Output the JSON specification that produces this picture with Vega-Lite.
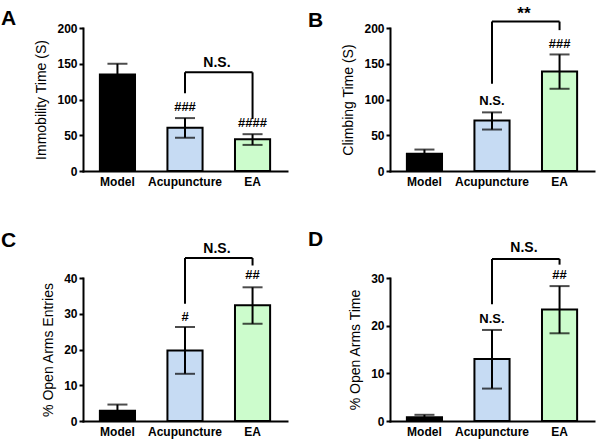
{
  "$schema": "https://vega.github.io/schema/vega-lite/v6.json",
  "padding": {"left": 1, "top": 5, "right": 5, "bottom": 5},
  "background": "white",
  "config": {
    "view": {"stroke": null},
    "font": "Liberation Sans",
    "axis": {"domainColor": "black", "domainWidth": 2, "grid": false, "labelColor": "black", "labelFont": "Liberation Sans", "labelFontWeight": "bold", "labelFontSize": 12, "titleFont": "Liberation Sans", "titleFontWeight": "normal", "titleFontSize": 14, "titleColor": "black"},
    "axisX": {"ticks": false, "labelAngle": 0, "labelPadding": 5, "title": null, "domainCap": "square"},
    "axisY": {"tickColor": "black", "tickWidth": 2, "tickSize": 4, "labelPadding": 2, "titlePadding": 8, "domainCap": "square", "labelOverlap": false},
    "title": {"font": "Liberation Sans", "fontSize": 21, "fontWeight": "bold", "anchor": "start", "frame": "group", "color": "black", "dx": -82, "dy": 11}
  },
  "datasets": {
    "barsA": [
      {"group": "Model", "mean": 135, "lo": 120, "hi": 150},
      {"group": "Acupuncture", "mean": 60.5, "lo": 46.5, "hi": 74},
      {"group": "EA", "mean": 44.5, "lo": 36.5, "hi": 51.5}
    ],
    "legsA": [
      {"group": "Acupuncture", "y1": 108.7, "y2": 138},
      {"group": "EA", "y1": 72.7, "y2": 138}
    ],
    "topA": [{"from": "Acupuncture", "to": "EA", "y": 138}],
    "textA": [
      {"group": "Acupuncture", "y": 89, "label": "###"},
      {"group": "EA", "y": 67.5, "label": "####"}
    ],
    "sigA": [{"group": "Acupuncture", "y": 151, "label": "N.S."}],
    "barsB": [
      {"group": "Model", "mean": 24, "lo": 18, "hi": 30},
      {"group": "Acupuncture", "mean": 70.5, "lo": 58, "hi": 82},
      {"group": "EA", "mean": 139, "lo": 115, "hi": 163}
    ],
    "legsB": [
      {"group": "Acupuncture", "y1": 122, "y2": 209},
      {"group": "EA", "y1": 197, "y2": 209}
    ],
    "topB": [{"from": "Acupuncture", "to": "EA", "y": 209}],
    "textB": [
      {"group": "Acupuncture", "y": 98, "label": "N.S."},
      {"group": "EA", "y": 177, "label": "###"}
    ],
    "sigB": [{"group": "Acupuncture", "y": 219, "label": "**"}],
    "barsC": [
      {"group": "Model", "mean": 2.9, "lo": 1.2, "hi": 4.6},
      {"group": "Acupuncture", "mean": 19.7, "lo": 13.2, "hi": 26.3},
      {"group": "EA", "mean": 32.4, "lo": 27.2, "hi": 37.4}
    ],
    "legsC": [
      {"group": "Acupuncture", "y1": 32.8, "y2": 45.6},
      {"group": "EA", "y1": 43.5, "y2": 45.6}
    ],
    "topC": [{"from": "Acupuncture", "to": "EA", "y": 45.6}],
    "textC": [
      {"group": "Acupuncture", "y": 29, "label": "#"},
      {"group": "EA", "y": 40.8, "label": "##"}
    ],
    "sigC": [{"group": "Acupuncture", "y": 48.2, "label": "N.S."}],
    "barsD": [
      {"group": "Model", "mean": 0.8, "lo": 0.3, "hi": 1.3},
      {"group": "Acupuncture", "mean": 13, "lo": 6.8, "hi": 19.1},
      {"group": "EA", "mean": 23.4, "lo": 18.4, "hi": 28.3}
    ],
    "legsD": [
      {"group": "Acupuncture", "y1": 24.5, "y2": 34},
      {"group": "EA", "y1": 32.8, "y2": 34}
    ],
    "topD": [{"from": "Acupuncture", "to": "EA", "y": 34}],
    "textD": [
      {"group": "Acupuncture", "y": 21.5, "label": "N.S."},
      {"group": "EA", "y": 30.6, "label": "##"}
    ],
    "sigD": [{"group": "Acupuncture", "y": 36.2, "label": "N.S."}]
  },
  "concat": [
    {
      "title": {"text": "A", "offset": 2, "dy": 9},
      "width": 204, "height": 143,
      "layer": [
        {
          "data": {"name": "barsA"},
          "mark": {"type": "bar", "stroke": "black", "strokeWidth": 2},
          "encoding": {
            "x": {"field": "group", "type": "nominal", "sort": ["Model", "Acupuncture", "EA"], "scale": {"domain": ["Model", "Acupuncture", "EA"], "paddingInner": 0.48, "paddingOuter": 0.25}},
            "y": {"field": "mean", "type": "quantitative", "title": "Immobility Time (S)", "scale": {"domain": [0, 200], "nice": false}, "axis": {"values": [0, 50, 100, 150, 200], "title": "Immobility Time (S)"}},
            "fill": {"field": "group", "type": "nominal", "legend": null, "scale": {"domain": ["Model", "Acupuncture", "EA"], "range": ["#000000", "#c6dbf3", "#ccfccc"]}}
          }
        },
        {
          "data": {"name": "barsA"},
          "mark": {"type": "rule", "color": "black", "strokeWidth": 2},
          "encoding": {"x": {"field": "group", "type": "nominal"}, "y": {"field": "lo", "type": "quantitative", "axis": {"values": [0, 50, 100, 150, 200], "title": "Immobility Time (S)"}}, "y2": {"field": "hi"}}
        },
        {
          "data": {"name": "barsA"},
          "mark": {"type": "tick", "color": "black", "thickness": 2, "size": 20, "orient": "horizontal"},
          "encoding": {"x": {"field": "group", "type": "nominal"}, "y": {"field": "hi", "type": "quantitative", "axis": {"values": [0, 50, 100, 150, 200], "title": "Immobility Time (S)"}}}
        },
        {
          "data": {"name": "barsA"},
          "mark": {"type": "tick", "color": "black", "thickness": 2, "size": 20, "orient": "horizontal"},
          "encoding": {"x": {"field": "group", "type": "nominal"}, "y": {"field": "lo", "type": "quantitative", "axis": {"values": [0, 50, 100, 150, 200], "title": "Immobility Time (S)"}}}
        },
        {
          "data": {"name": "legsA"},
          "mark": {"type": "rule", "color": "black", "strokeWidth": 2},
          "encoding": {"x": {"field": "group", "type": "nominal"}, "y": {"field": "y1", "type": "quantitative", "axis": {"values": [0, 50, 100, 150, 200], "title": "Immobility Time (S)"}}, "y2": {"field": "y2"}}
        },
        {
          "data": {"name": "topA"},
          "mark": {"type": "rule", "color": "black", "strokeWidth": 2},
          "encoding": {"x": {"field": "from", "type": "nominal"}, "x2": {"field": "to"}, "y": {"field": "y", "type": "quantitative", "axis": {"values": [0, 50, 100, 150, 200], "title": "Immobility Time (S)"}}}
        },
        {
          "data": {"name": "textA"},
          "mark": {"type": "text", "font": "Liberation Sans", "fontWeight": "bold", "fontSize": 13, "baseline": "middle", "color": "black"},
          "encoding": {"x": {"field": "group", "type": "nominal"}, "y": {"field": "y", "type": "quantitative", "axis": {"values": [0, 50, 100, 150, 200], "title": "Immobility Time (S)"}}, "text": {"field": "label"}}
        },
        {
          "data": {"name": "sigA"},
          "mark": {"type": "text", "font": "Liberation Sans", "fontWeight": "bold", "fontSize": 14, "baseline": "middle", "color": "black"},
          "encoding": {"x": {"field": "group", "type": "nominal", "bandPosition": 1.41}, "y": {"field": "y", "type": "quantitative", "axis": {"values": [0, 50, 100, 150, 200], "title": "Immobility Time (S)"}}, "text": {"field": "label"}}
        }
      ]
    },
    {
      "title": {"text": "B", "offset": 2, "dy": 28},
      "width": 204, "height": 143,
      "layer": [
        {
          "data": {"name": "barsB"},
          "mark": {"type": "bar", "stroke": "black", "strokeWidth": 2},
          "encoding": {
            "x": {"field": "group", "type": "nominal", "sort": ["Model", "Acupuncture", "EA"], "scale": {"domain": ["Model", "Acupuncture", "EA"], "paddingInner": 0.48, "paddingOuter": 0.25}},
            "y": {"field": "mean", "type": "quantitative", "scale": {"domain": [0, 200], "nice": false}, "axis": {"values": [0, 50, 100, 150, 200], "title": "Climbing Time (S)"}},
            "fill": {"field": "group", "type": "nominal", "legend": null, "scale": {"domain": ["Model", "Acupuncture", "EA"], "range": ["#000000", "#c6dbf3", "#ccfccc"]}}
          }
        },
        {
          "data": {"name": "barsB"},
          "mark": {"type": "rule", "color": "black", "strokeWidth": 2},
          "encoding": {"x": {"field": "group", "type": "nominal"}, "y": {"field": "lo", "type": "quantitative", "axis": {"values": [0, 50, 100, 150, 200], "title": "Climbing Time (S)"}}, "y2": {"field": "hi"}}
        },
        {
          "data": {"name": "barsB"},
          "mark": {"type": "tick", "color": "black", "thickness": 2, "size": 20, "orient": "horizontal"},
          "encoding": {"x": {"field": "group", "type": "nominal"}, "y": {"field": "hi", "type": "quantitative", "axis": {"values": [0, 50, 100, 150, 200], "title": "Climbing Time (S)"}}}
        },
        {
          "data": {"name": "barsB"},
          "mark": {"type": "tick", "color": "black", "thickness": 2, "size": 20, "orient": "horizontal"},
          "encoding": {"x": {"field": "group", "type": "nominal"}, "y": {"field": "lo", "type": "quantitative", "axis": {"values": [0, 50, 100, 150, 200], "title": "Climbing Time (S)"}}}
        },
        {
          "data": {"name": "legsB"},
          "mark": {"type": "rule", "color": "black", "strokeWidth": 2},
          "encoding": {"x": {"field": "group", "type": "nominal"}, "y": {"field": "y1", "type": "quantitative", "axis": {"values": [0, 50, 100, 150, 200], "title": "Climbing Time (S)"}}, "y2": {"field": "y2"}}
        },
        {
          "data": {"name": "topB"},
          "mark": {"type": "rule", "color": "black", "strokeWidth": 2},
          "encoding": {"x": {"field": "from", "type": "nominal"}, "x2": {"field": "to"}, "y": {"field": "y", "type": "quantitative", "axis": {"values": [0, 50, 100, 150, 200], "title": "Climbing Time (S)"}}}
        },
        {
          "data": {"name": "textB"},
          "mark": {"type": "text", "font": "Liberation Sans", "fontWeight": "bold", "fontSize": 13, "baseline": "middle", "color": "black"},
          "encoding": {"x": {"field": "group", "type": "nominal"}, "y": {"field": "y", "type": "quantitative", "axis": {"values": [0, 50, 100, 150, 200], "title": "Climbing Time (S)"}}, "text": {"field": "label"}}
        },
        {
          "data": {"name": "sigB"},
          "mark": {"type": "text", "font": "Liberation Sans", "fontWeight": "bold", "fontSize": 17, "baseline": "middle", "color": "black"},
          "encoding": {"x": {"field": "group", "type": "nominal", "bandPosition": 1.41}, "y": {"field": "y", "type": "quantitative", "axis": {"values": [0, 50, 100, 150, 200], "title": "Climbing Time (S)"}}, "text": {"field": "label"}}
        }
      ]
    },
    {
      "title": {"text": "C", "offset": 2},
      "width": 204, "height": 143,
      "layer": [
        {
          "data": {"name": "barsC"},
          "mark": {"type": "bar", "stroke": "black", "strokeWidth": 2},
          "encoding": {
            "x": {"field": "group", "type": "nominal", "sort": ["Model", "Acupuncture", "EA"], "scale": {"domain": ["Model", "Acupuncture", "EA"], "paddingInner": 0.48, "paddingOuter": 0.25}},
            "y": {"field": "mean", "type": "quantitative", "scale": {"domain": [0, 40], "nice": false}, "axis": {"values": [0, 10, 20, 30, 40], "title": "% Open Arms  Entries"}},
            "fill": {"field": "group", "type": "nominal", "legend": null, "scale": {"domain": ["Model", "Acupuncture", "EA"], "range": ["#000000", "#c6dbf3", "#ccfccc"]}}
          }
        },
        {
          "data": {"name": "barsC"},
          "mark": {"type": "rule", "color": "black", "strokeWidth": 2},
          "encoding": {"x": {"field": "group", "type": "nominal"}, "y": {"field": "lo", "type": "quantitative", "axis": {"values": [0, 10, 20, 30, 40], "title": "% Open Arms  Entries"}}, "y2": {"field": "hi"}}
        },
        {
          "data": {"name": "barsC"},
          "mark": {"type": "tick", "color": "black", "thickness": 2, "size": 20, "orient": "horizontal"},
          "encoding": {"x": {"field": "group", "type": "nominal"}, "y": {"field": "hi", "type": "quantitative", "axis": {"values": [0, 10, 20, 30, 40], "title": "% Open Arms  Entries"}}}
        },
        {
          "data": {"name": "barsC"},
          "mark": {"type": "tick", "color": "black", "thickness": 2, "size": 20, "orient": "horizontal"},
          "encoding": {"x": {"field": "group", "type": "nominal"}, "y": {"field": "lo", "type": "quantitative", "axis": {"values": [0, 10, 20, 30, 40], "title": "% Open Arms  Entries"}}}
        },
        {
          "data": {"name": "legsC"},
          "mark": {"type": "rule", "color": "black", "strokeWidth": 2},
          "encoding": {"x": {"field": "group", "type": "nominal"}, "y": {"field": "y1", "type": "quantitative", "axis": {"values": [0, 10, 20, 30, 40], "title": "% Open Arms  Entries"}}, "y2": {"field": "y2"}}
        },
        {
          "data": {"name": "topC"},
          "mark": {"type": "rule", "color": "black", "strokeWidth": 2},
          "encoding": {"x": {"field": "from", "type": "nominal"}, "x2": {"field": "to"}, "y": {"field": "y", "type": "quantitative", "axis": {"values": [0, 10, 20, 30, 40], "title": "% Open Arms  Entries"}}}
        },
        {
          "data": {"name": "textC"},
          "mark": {"type": "text", "font": "Liberation Sans", "fontWeight": "bold", "fontSize": 13, "baseline": "middle", "color": "black"},
          "encoding": {"x": {"field": "group", "type": "nominal"}, "y": {"field": "y", "type": "quantitative", "axis": {"values": [0, 10, 20, 30, 40], "title": "% Open Arms  Entries"}}, "text": {"field": "label"}}
        },
        {
          "data": {"name": "sigC"},
          "mark": {"type": "text", "font": "Liberation Sans", "fontWeight": "bold", "fontSize": 14, "baseline": "middle", "color": "black"},
          "encoding": {"x": {"field": "group", "type": "nominal", "bandPosition": 1.41}, "y": {"field": "y", "type": "quantitative", "axis": {"values": [0, 10, 20, 30, 40], "title": "% Open Arms  Entries"}}, "text": {"field": "label"}}
        }
      ]
    },
    {
      "title": {"text": "D", "offset": 2},
      "width": 204, "height": 143,
      "layer": [
        {
          "data": {"name": "barsD"},
          "mark": {"type": "bar", "stroke": "black", "strokeWidth": 2},
          "encoding": {
            "x": {"field": "group", "type": "nominal", "sort": ["Model", "Acupuncture", "EA"], "scale": {"domain": ["Model", "Acupuncture", "EA"], "paddingInner": 0.48, "paddingOuter": 0.25}},
            "y": {"field": "mean", "type": "quantitative", "scale": {"domain": [0, 30], "nice": false}, "axis": {"values": [0, 10, 20, 30], "title": "% Open Arms Time"}},
            "fill": {"field": "group", "type": "nominal", "legend": null, "scale": {"domain": ["Model", "Acupuncture", "EA"], "range": ["#000000", "#c6dbf3", "#ccfccc"]}}
          }
        },
        {
          "data": {"name": "barsD"},
          "mark": {"type": "rule", "color": "black", "strokeWidth": 2},
          "encoding": {"x": {"field": "group", "type": "nominal"}, "y": {"field": "lo", "type": "quantitative", "axis": {"values": [0, 10, 20, 30], "title": "% Open Arms Time"}}, "y2": {"field": "hi"}}
        },
        {
          "data": {"name": "barsD"},
          "mark": {"type": "tick", "color": "black", "thickness": 2, "size": 20, "orient": "horizontal"},
          "encoding": {"x": {"field": "group", "type": "nominal"}, "y": {"field": "hi", "type": "quantitative", "axis": {"values": [0, 10, 20, 30], "title": "% Open Arms Time"}}}
        },
        {
          "data": {"name": "barsD"},
          "mark": {"type": "tick", "color": "black", "thickness": 2, "size": 20, "orient": "horizontal"},
          "encoding": {"x": {"field": "group", "type": "nominal"}, "y": {"field": "lo", "type": "quantitative", "axis": {"values": [0, 10, 20, 30], "title": "% Open Arms Time"}}}
        },
        {
          "data": {"name": "legsD"},
          "mark": {"type": "rule", "color": "black", "strokeWidth": 2},
          "encoding": {"x": {"field": "group", "type": "nominal"}, "y": {"field": "y1", "type": "quantitative", "axis": {"values": [0, 10, 20, 30], "title": "% Open Arms Time"}}, "y2": {"field": "y2"}}
        },
        {
          "data": {"name": "topD"},
          "mark": {"type": "rule", "color": "black", "strokeWidth": 2},
          "encoding": {"x": {"field": "from", "type": "nominal"}, "x2": {"field": "to"}, "y": {"field": "y", "type": "quantitative", "axis": {"values": [0, 10, 20, 30], "title": "% Open Arms Time"}}}
        },
        {
          "data": {"name": "textD"},
          "mark": {"type": "text", "font": "Liberation Sans", "fontWeight": "bold", "fontSize": 13, "baseline": "middle", "color": "black"},
          "encoding": {"x": {"field": "group", "type": "nominal"}, "y": {"field": "y", "type": "quantitative", "axis": {"values": [0, 10, 20, 30], "title": "% Open Arms Time"}}, "text": {"field": "label"}}
        },
        {
          "data": {"name": "sigD"},
          "mark": {"type": "text", "font": "Liberation Sans", "fontWeight": "bold", "fontSize": 14, "baseline": "middle", "color": "black"},
          "encoding": {"x": {"field": "group", "type": "nominal", "bandPosition": 1.41}, "y": {"field": "y", "type": "quantitative", "axis": {"values": [0, 10, 20, 30], "title": "% Open Arms Time"}}, "text": {"field": "label"}}
        }
      ]
    }
  ],
  "columns": 2,
  "bounds": "flush",
  "spacing": {"row": 107, "column": 103},
  "resolve": {"scale": {"y": "independent", "x": "independent", "fill": "independent"}}
}
